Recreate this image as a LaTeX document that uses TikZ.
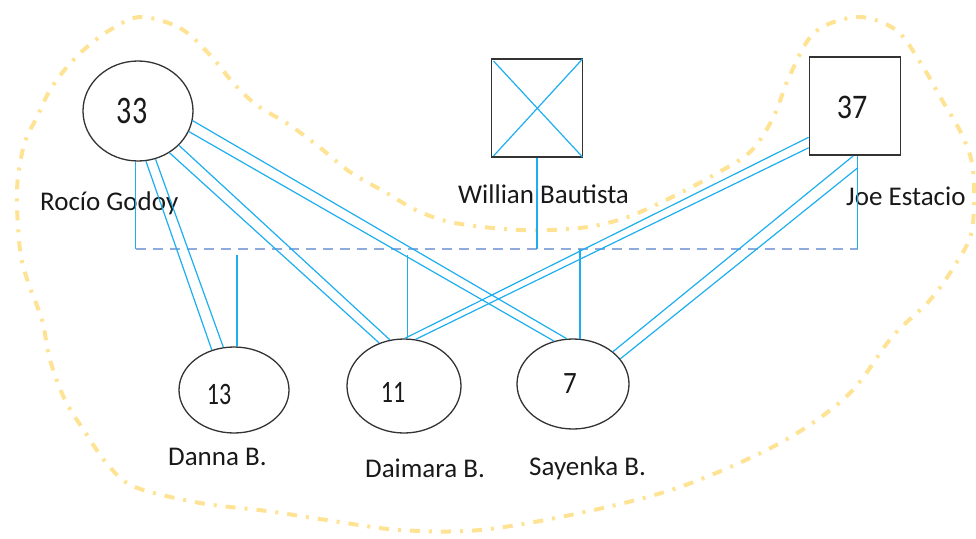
\documentclass[tikz,border=0pt]{standalone}
\usepackage{graphicx}
\usepackage{fontspec}
\setmainfont{Carlito}
\usetikzlibrary{shapes.geometric}
\definecolor{linkblue}{HTML}{1CAEEF}
\definecolor{dashblue}{HTML}{8FAADC}
\definecolor{halo}{HTML}{FFD970}
\definecolor{outline}{HTML}{333333}
\begin{document}
\begin{tikzpicture}[x=1pt,y=-1pt,
  person/.style={ellipse,draw=outline,line width=1.3pt,inner sep=0pt},
  malebox/.style={rectangle,draw=outline,line width=1.8pt,inner sep=0pt,minimum width=91pt,minimum height=98pt},
  namelbl/.style={anchor=base west,inner sep=0pt,text=black!90,font=\fontsize{27}{32}\selectfont},
  agelbl/.style={inner sep=0pt,text=black!90},
  link/.style={draw=linkblue,line width=1.2pt},
  stem/.style={draw=linkblue,line width=1.5pt},
  union/.style={draw=dashblue,line width=1.4pt,dash pattern=on 10pt off 7pt},
  halostroke/.style={draw=halo,line width=4pt,opacity=0.75,dash pattern=on 10pt off 9pt on 3pt off 9pt}]
\path[use as bounding box] (0,0) rectangle (976,538);
% enclosing boundary
\draw[halostroke] plot[smooth cycle,tension=0.55] coordinates {
 (140,17) (180,28) (210,55) (235,85) (258,106) (288,124) (318,146) (350,172) (385,192)
 (418,211) (455,223) (520,230) (580,228) (625,218) (668,199) (712,176) (750,152)
 (773,118) (790,75) (815,32) (858,17) (896,30) (920,62) (942,100) (962,135) (973,170)
 (972,230) (955,265) (930,300) (892,337) (848,395) (780,443) (680,487) (580,513)
 (480,530) (400,530) (333,521) (267,511) (200,503) (135,487) (108,465) (85,432)
 (65,400) (50,360) (42,320) (28,282) (20,250) (17,190) (24,145) (37,117) (50,90)
 (67,67) (87,47) (110,30)};
% persons
\node[person,minimum width=110pt,minimum height=100pt] (c33) at (138,111) {};
\node[malebox] (wb) at (537,108) {};
\node[malebox] (c37) at (855,106) {};
\node[person,minimum width=110pt,minimum height=86pt] (c13) at (234,390) {};
\node[person,minimum width=114pt,minimum height=94pt] (c11) at (404,386) {};
\node[person,minimum width=112pt,minimum height=90pt] (c7) at (573,384) {};
% ages
\node[agelbl,font=\fontsize{30}{34}\selectfont] (t33) at (132,111) {\scalebox{1}[1.3]{33}};
\node[agelbl,font=\fontsize{30}{34}\selectfont] (t37) at (852,107) {\scalebox{1}[1.15]{37}};
\node[agelbl,font=\fontsize{24}{28}\selectfont] (t13) at (219,394) {\scalebox{1}[1.3]{13}};
\node[agelbl,font=\fontsize{24}{28}\selectfont] (t11) at (393,392) {\scalebox{1}[1.3]{11}};
\node[agelbl,font=\fontsize{27}{31}\selectfont] (t7) at (570,384) {\scalebox{1}[1.15]{7}};
% names
\node[namelbl] (n33) at (40,210) {Rocío Godoy};
\node[namelbl] (nwb) at (458,203) {Willian Bautista};
\node[namelbl] (n37) at (846,205) {Joe Estacio};
\node[namelbl] (n13) at (168,465) {Danna B.};
\node[namelbl] (n11) at (365,477) {Daimara B.};
\node[namelbl] (n7) at (529,475) {Sayenka B.};
% cross in deceased box
\draw[link] ([shift={(3pt,-3pt)}]wb.north west) -- ([shift={(-1pt,1pt)}]wb.south east);
\draw[link] ([shift={(3pt,2pt)}]wb.south west) -- ([shift={(-1pt,-1pt)}]wb.north east);
% union line
\coordinate (hl) at (135.5,249);
\coordinate (hr) at (858,249);
\coordinate (kl) at (0,255);
\draw[union] (hl) -- (hr);
\draw[stem] (c33.-93) -- (c33.-93 |- hl);
\draw[stem] (wb.south) -- (wb.south |- hl);
\draw[stem] (c37.-87) -- (c37.-87 |- hl);
\draw[stem] (c13.86) -- (c13.86 |- kl);
\draw[stem] (c11.86) -- (c11.86 |- kl);
\draw[stem] (c7.81) -- (c7.81 |- hl);
% double links
\draw[link] (c33.-81) -- (c13.119);
\draw[link] (c33.-70) -- (c13.104);
\draw[link] (c33.-53) -- (c11.120);
\draw[link] (c33.-40) -- (c11.107);
\draw[link] (c33.-22) -- (c7.114);
\draw[link] (c33.-10) -- (c7.98);
\draw[link] (c37.214) -- (c11.89);
\draw[link] (c37.222) -- (c11.76);
\draw[link] (c37.268) -- (c7.39);
\draw[link] ([yshift=-12pt]c37.-87) -- (c7.28);
\end{tikzpicture}
\end{document}
